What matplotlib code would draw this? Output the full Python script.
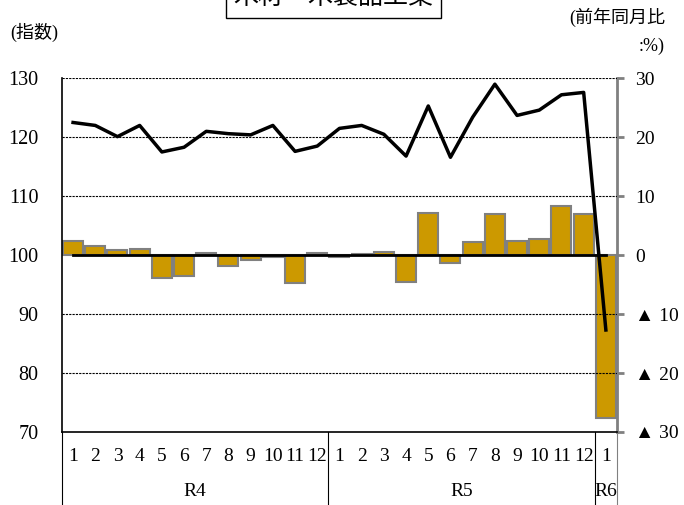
import matplotlib.pyplot as plt
from matplotlib.transforms import blended_transform_factory

plt.rcParams['font.family'] = ['Liberation Serif', 'Noto Sans CJK JP', 'DejaVu Sans']

months = ['1', '2', '3', '4', '5', '6', '7', '8', '9', '10', '11', '12',
          '1', '2', '3', '4', '5', '6', '7', '8', '9', '10', '11', '12', '1']
years = ['R4', 'R5', 'R6']
year_spans = [(0, 12), (12, 24), (24, 25)]

# 指数 (left axis)
index = [122.5, 122.0, 120.1, 122.0, 117.5, 118.3, 121.0, 120.6, 120.4, 122.0, 117.6, 118.5,
         121.5, 122.0, 120.5, 116.8, 125.3, 116.6, 123.4, 129.0, 123.7, 124.6, 127.2, 127.6,
         87.3]
# 前年同月比 % (right axis)
yoy = [2.4, 1.5, 0.9, 1.0, -3.9, -3.6, 0.4, -1.9, -0.8, -0.4, -4.8, 0.3,
       -0.4, 0.2, 0.5, -4.5, 7.1, -1.4, 2.3, 7.0, 2.4, 2.8, 8.3, 7.0,
       -27.6]

x = list(range(len(months)))

fig = plt.figure(figsize=(6.84, 5.05), dpi=100)
ax = fig.add_axes([0.0906, 0.1446, 0.8114, 0.7004])
ax2 = ax.twinx()

ax2.bar(x, yoy, width=0.9, color='#CC9900', edgecolor='#808080', linewidth=1.5, zorder=2)
ax2.plot(x, [0] * len(x), color='black', lw=2, zorder=3)
ax2.set_ylim(-30, 30)
ax2.set_yticks([30, 20, 10, 0, -10, -20, -30])
ax2.set_yticklabels(['30', '20', '10', '0', '▲ 10', '▲ 20', '▲ 30'], fontsize=14)
ax2.tick_params(axis='y', colors='#808080', length=5, width=2, pad=8, labelcolor='black')
for s in ['top', 'left', 'bottom']:
    ax2.spines[s].set_visible(False)
ax2.spines['right'].set_color('#808080')
ax2.spines['right'].set_linewidth(2)

ax.set_zorder(ax2.get_zorder() + 1)
ax.patch.set_visible(False)
ax.plot(x, index, color='black', lw=2.5, zorder=4)
ax.set_ylim(70, 130)
ax.set_xlim(-0.5, len(x) - 0.5)
ax.set_yticks(range(70, 131, 10))
ax.tick_params(axis='y', length=0, pad=17, labelsize=14.5)
ax.set_xticks([])
for v in [80, 90, 110, 120, 130]:
    ax.axhline(v, color='black', lw=0.8, ls=(0, (2, 1)), zorder=1)
for s in ['top', 'right']:
    ax.spines[s].set_visible(False)
ax.spines['left'].set_linewidth(1.2)
ax.spines['bottom'].set_linewidth(1.2)

# category labels under the axis
tr = blended_transform_factory(ax.transData, ax.transAxes)
for i, m in enumerate(months):
    ax.text(i, -0.07, m, transform=tr, ha='center', va='center', fontsize=14)
for name, (a, b) in zip(years, year_spans):
    ax.text((a + b - 1) / 2, -0.168, name, transform=tr, ha='center', va='center', fontsize=14)
for xs in [-0.5, 11.5, 23.5]:
    ax.plot([xs, xs], [0, -0.21], transform=tr, color='black', lw=0.8, clip_on=False)
ax.plot([24.5, 24.5], [0, -0.21], transform=tr, color='#808080', lw=0.8, clip_on=False)

fig.text(0.015, 0.935, '(指数)', fontsize=13, ha='left', va='center')
fig.text(0.972, 0.966, '(前年同月比', fontsize=13, ha='right', va='center')
fig.text(0.972, 0.909, ':%)', fontsize=13, ha='right', va='center')
fig.text(0.487, 1.005, '木材・木製品工業', fontsize=18, ha='center', va='center',
         family=['Noto Sans CJK JP'],
         bbox=dict(boxstyle='square,pad=0.3', facecolor='white', edgecolor='black', lw=1))

fig.savefig('out.png', dpi=100)
